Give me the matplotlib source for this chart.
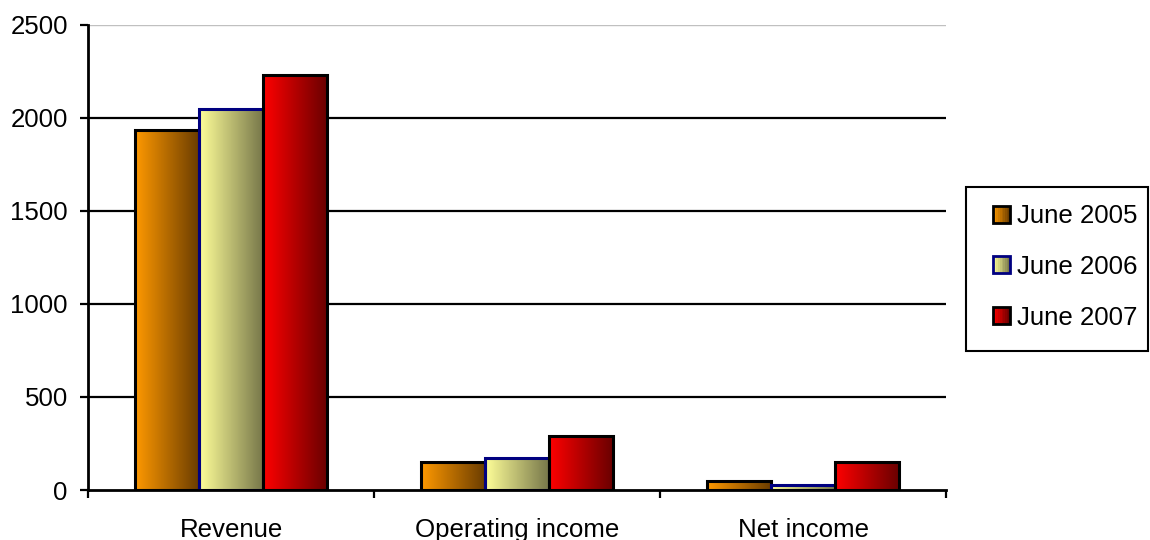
import numpy as np
import matplotlib
matplotlib.use("Agg")
import matplotlib.pyplot as plt
from matplotlib.colors import LinearSegmentedColormap
from matplotlib.patches import Rectangle
from matplotlib.legend_handler import HandlerBase

plt.rcParams["font.family"] = ["Liberation Sans", "DejaVu Sans"]

categories = ["Revenue", "Operating income", "Net income"]
series_names = ["June 2005", "June 2006", "June 2007"]
values_2005 = [1935, 151, 48]
values_2006 = [2045, 170, 27]
values_2007 = [2230, 291, 148]
yticks = [0, 500, 1000, 1500, 2000, 2500]

series_values = [values_2005, values_2006, values_2007]
# gradient (light -> dark) and edge colour per series
grad_colors = [("#ff9900", "#6b3d00"), ("#ffff99", "#77774a"), ("#ff0000", "#6a0000")]
edge_colors = ["black", "#000080", "black"]
fs = 18.6

fig = plt.figure(figsize=(11.5, 5.4), dpi=100)
ax = fig.add_axes([88/1150, 1-490/540, (946-88)/1150, (490-24.5)/540])

bar_w = 0.223
x = np.arange(len(categories))
grad = np.linspace(0, 1, 256).reshape(1, -1)
for i, vals in enumerate(series_values):
    cmap = LinearSegmentedColormap.from_list("g%d" % i, grad_colors[i])
    pos = x + (i - 1) * bar_w
    bars = ax.bar(pos, vals, width=bar_w, facecolor="none",
                  edgecolor=edge_colors[i], linewidth=2.2, zorder=4)
    for b in bars:
        x0, y0 = b.get_x(), b.get_y()
        ax.imshow(grad, cmap=cmap, aspect="auto", zorder=3,
                  extent=(x0, x0 + b.get_width(), y0, y0 + b.get_height()))

ax.set_xlim(-0.5, len(categories) - 0.5)
ax.set_ylim(0, 2500)

for v in yticks[1:-1]:
    ax.axhline(v, color="black", lw=1.6, zorder=1)
ax.axhline(2500, color="#c0c0c0", lw=1, zorder=1)

for s in ["top", "right"]:
    ax.spines[s].set_visible(False)
ax.spines["left"].set_linewidth(2)
ax.spines["bottom"].set_linewidth(2)
ax.spines["bottom"].set_zorder(5)

ax.set_yticks(yticks)
ax.tick_params(axis="y", direction="out", length=6, width=1.6, pad=8.5, labelsize=fs)
ax.set_xticks(np.arange(len(categories) + 1) - 0.5)
ax.set_xticklabels([])
ax.tick_params(axis="x", which="major", direction="out", length=6, width=1.6)
ax.set_xticks(x, minor=True)
ax.set_xticklabels(categories, minor=True)
ax.tick_params(axis="x", which="minor", length=0, pad=20, labelsize=fs)


class GradientHandler(HandlerBase):
    def __init__(self, cols, edge):
        super().__init__()
        self.cols = cols
        self.edge = edge

    def create_artists(self, legend, orig_handle, xdescent, ydescent,
                       width, height, fontsize, trans):
        cmap = LinearSegmentedColormap.from_list("h", self.cols)
        n = 10
        side = min(width, height)
        x0 = -xdescent + (width - side)
        y0 = -ydescent + (height - side) / 2
        arts = []
        for k in range(n):
            r = Rectangle((x0 + side * k / n, y0), side / n + 0.3, side,
                          facecolor=cmap(k / (n - 1)), edgecolor="none",
                          transform=trans)
            arts.append(r)
        arts.append(Rectangle((x0, y0), side, side, facecolor="none",
                              edgecolor=self.edge, lw=2, transform=trans))
        return arts


handles = [Rectangle((0, 0), 1, 1) for _ in series_names]
hmap = {h: GradientHandler(grad_colors[i], edge_colors[i]) for i, h in enumerate(handles)}
leg = fig.legend(handles, series_names, handler_map=hmap,
                 loc="center left", bbox_to_anchor=(993/1150, 1-267/540),
                 fontsize=fs, frameon=False, borderpad=0,
                 labelspacing=1.03, handlelength=0.66, handleheight=0.66,
                 handletextpad=0.27, borderaxespad=0)

# legend frame
fig.patches.append(Rectangle((966/1150, 1-351/540), (1148-966)/1150, (351-187)/540,
                             transform=fig.transFigure, facecolor="none",
                             edgecolor="black", lw=1.5))

fig.savefig("out.png", dpi=100)
